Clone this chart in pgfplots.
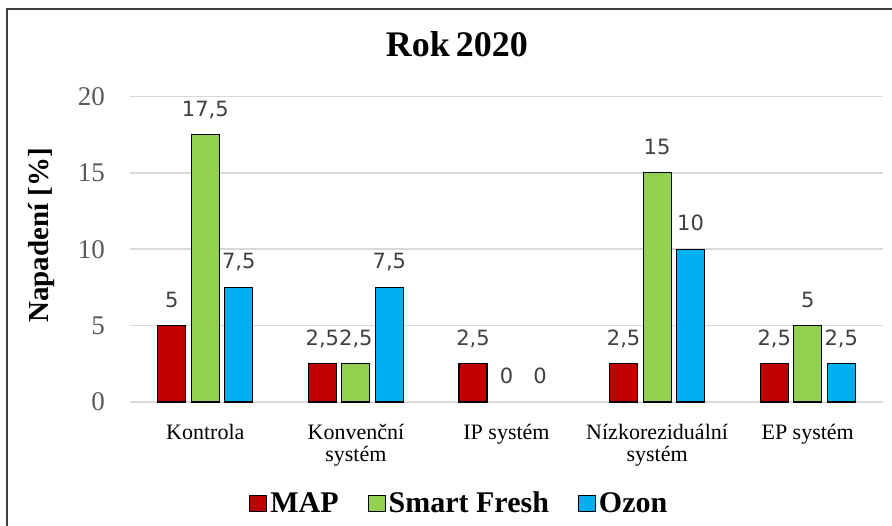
\documentclass[border=0pt]{standalone}
\usepackage{fontspec}
\setmainfont{Liberation Serif}
\newfontfamily\labelfont{DejaVu Sans}
\usepackage{pgfplots}
\pgfplotsset{compat=1.18}
\definecolor{cmap}{HTML}{C00000}
\definecolor{csf}{HTML}{92D050}
\definecolor{coz}{HTML}{00B0F0}
\definecolor{gridc}{HTML}{D9D9D9}
\definecolor{tickc}{HTML}{595959}
\definecolor{labc}{HTML}{404040}
\definecolor{framec}{HTML}{404040}
\begin{document}
\begin{tikzpicture}[x=1pt,y=1pt]
\path[use as bounding box] (0,0) rectangle (892,-526);
\draw[framec, line width=1.6pt] (7,-526) -- (7,-9) -- (892,-9);
\node[font=\rmfamily\bfseries\fontsize{36}{36}\selectfont, anchor=base] at (457,-57) {Rok\,2020};
\begin{axis}[
  at={(130pt,-402pt)}, anchor=south west,
  scale only axis, width=753pt, height=305.5pt,
  ybar, bar width=28pt,
  xmin=-0.5, xmax=4.5, ymin=0, ymax=20,
  enlargelimits=false,
  xtick={0,1,2,3,4},
  xticklabels={Kontrola, {Konven\v{c}n\'{\i}\\syst\'em}, {IP syst\'em}, {N\'{\i}zkorezidu\'aln\'{\i}\\syst\'em}, {EP syst\'em}},
  xticklabel style={font=\rmfamily\fontsize{22}{22}\selectfont, align=center, anchor=north, inner sep=0pt, yshift=-18pt},
  ytick={0,5,10,15,20},
  yticklabel style={font=\rmfamily\fontsize{27}{27}\selectfont, text=tickc, anchor=east, inner sep=0pt, xshift=-25pt},
  /pgf/number format/assume math mode=true,
  /pgf/number format/use comma,
  axis line style={draw=none},
  tick style={draw=none},
  ymajorgrids, grid style={draw=gridc, line width=1.5pt},
  ylabel={Napaden\'{\i} [\%]},
  ylabel style={font=\rmfamily\bfseries\fontsize{29}{29}\selectfont, at={(axis description cs:-0.118,0.545)}, anchor=center, rotate=0},
  nodes near coords,
  every node near coord/.append style={font=\labelfont\fontsize{21}{21}\selectfont, text=labc, anchor=south, inner sep=0pt, text depth=0pt, yshift=18pt},
  legend columns=3,
  legend style={at={(axis description cs:0.438,-0.331)}, anchor=center, draw=none, fill=none,
    font=\rmfamily\bfseries\fontsize{30}{30}\selectfont,
    /tikz/every even column/.append style={column sep=26pt},
    nodes={inner sep=3pt}},
  legend image code/.code={\draw[#1, draw=black, line width=1pt] (0pt,-8pt) rectangle (17pt,8pt);},
]
\addplot[fill=cmap, draw=black, line width=1.1pt, bar shift=-33.5pt] coordinates {(0,5) (1,2.5) (2,2.5) (3,2.5) (4,2.5)};
\addplot[fill=csf, draw=black, line width=1.1pt, bar shift=0pt] coordinates {(0,17.5) (1,2.5) (3,15) (4,5)};
\addplot[fill=coz, draw=black, line width=1.1pt, bar shift=33.5pt] coordinates {(0,7.5) (1,7.5) (3,10) (4,2.5)};
\legend{MAP, Smart Fresh, Ozon}
% zero values (IP systém): label only, no visible bar
\addplot[draw=none, fill=none, bar shift=0pt, forget plot] coordinates {(2,0)};
\addplot[draw=none, fill=none, bar shift=33.5pt, forget plot] coordinates {(2,0)};
\end{axis}
\end{tikzpicture}
\end{document}
